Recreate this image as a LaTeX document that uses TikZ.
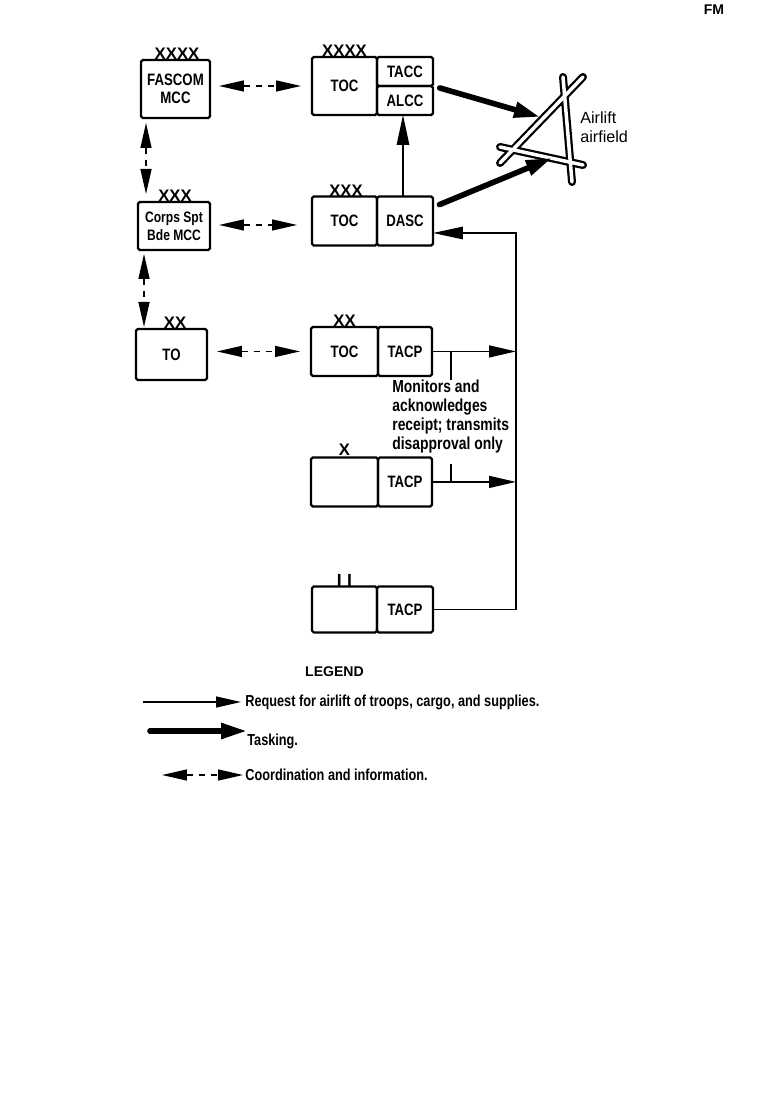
\documentclass[tikz,border=0pt]{standalone}
\usepackage{fontspec}
\setmainfont{Liberation Sans}
\newfontfamily\condfont[FakeStretch=0.8]{Liberation Sans}
\usetikzlibrary{positioning,arrows.meta}

\begin{document}
\begin{tikzpicture}[
x=0.02cm,y=-0.02cm,
node distance=1.63cm,
>={Triangle[length=0.5cm,width=0.22cm]},
unitbox/.style={
draw,
rounded corners=1pt,
line width=1.3pt,
outer sep=0pt,
inner sep=0pt,
align=center,
font=\condfont\bfseries\fontsize{9.4}{10.6}\selectfont
},
echelon/.style={
font=\bfseries\fontsize{9.5}{10}\selectfont,
inner sep=0pt,
outer sep=0pt
},
legendtext/.style={
font=\condfont\bfseries\fontsize{9.05}{10}\selectfont,
inner sep=0pt,
anchor=west
},
coordline/.style={<->,line width=0.8pt,dash pattern=on 3.4pt off 3.4pt},
request/.style={->,line width=0.8pt},
tasking/.style={-{Triangle[length=0.52cm,width=0.3cm]},line width=3.2pt,line cap=round},
road/.style={line cap=round}
]

\useasboundingbox (0,0) rectangle (783,1097);

\node (fm) [font=\bfseries\fontsize{8}{9}\selectfont,inner sep=0pt] at (714,10) {FM};

% left column
\node (fascom) [unitbox,minimum width=1.38cm,minimum height=1.16cm] at (175.5,89) {FASCOM\\MCC};
\node (corps) [unitbox,minimum width=1.44cm,minimum height=0.96cm,
font=\condfont\bfseries\fontsize{8.6}{10.2}\selectfont,below=1.68cm of fascom,xshift=-0.03cm] {Corps Spt\\Bde MCC};
\node (to) [unitbox,minimum width=1.42cm,minimum height=1.02cm,below=1.58cm of corps,xshift=-0.05cm] {TO};

% right column
\node (toc1) [unitbox,minimum width=1.3cm,minimum height=1.16cm] at (344.5,86) {TOC};
\node (tacc) [unitbox,minimum width=1.12cm,minimum height=0.58cm,right=0pt of toc1.north east,anchor=north west] {TACC};
\node (alcc) [unitbox,minimum width=1.12cm,minimum height=0.58cm,below=0pt of tacc] {ALCC};

\node (toc2) [unitbox,minimum width=1.3cm,minimum height=0.98cm,below=of toc1] {TOC};
\node (dasc) [unitbox,minimum width=1.12cm,minimum height=0.98cm,right=0pt of toc2] {DASC};

\node (toc3) [unitbox,minimum width=1.34cm,minimum height=0.98cm,below=of toc2] {TOC};
\node (tacp1) [unitbox,minimum width=1.08cm,minimum height=0.98cm,right=0pt of toc3] {TACP};

\node (toc4) [unitbox,minimum width=1.34cm,minimum height=0.98cm,below=of toc3] {};
\node (tacp2) [unitbox,minimum width=1.08cm,minimum height=0.98cm,right=0pt of toc4] {TACP};

\node (toc5) [unitbox,minimum width=1.3cm,minimum height=0.92cm,below=1.6cm of toc4] {};
\node (tacp3) [unitbox,minimum width=1.12cm,minimum height=0.92cm,right=0pt of toc5] {TACP};

% echelon marks
\node (mark1) [echelon,above=0pt of fascom,xshift=0.03cm] {XXXX};
\node (mark2) [echelon,above=0pt of corps,xshift=0.02cm] {XXX};
\node (mark3) [echelon,above=0pt of to,xshift=0.07cm] {XX};
\node (mark4) [echelon,above=0pt of toc1] {XXXX};
\node (mark5) [echelon,above=0pt of toc2,xshift=0.03cm] {XXX};
\node (mark6) [echelon,above=0pt of toc3] {XX};
\node (mark7) [echelon,above=0.04cm of toc4] {X};
\node (mark8) [echelon,above=0pt of toc5,font=\bfseries\fontsize{10}{10}\selectfont] {I\hspace{3pt}I};

\node (monitors) [font=\condfont\bfseries\fontsize{9.9}{10.8}\selectfont,align=left,inner sep=0pt,
below right=0.08cm and 0.28cm of tacp1.south west] {Monitors and\\acknowledges\\receipt; transmits\\disapproval only};

\node (airlift) [font=\fontsize{9.2}{11}\selectfont,align=left,inner sep=0pt,anchor=west] at (580,127) {Airlift\\airfield};

% airfield
\draw[road,line width=0.16cm] (583,77) -- (500,163) (563,77) -- (572,182) (500,147) -- (583,165);
\draw[road,white,line width=0.07cm] (583,77) -- (500,163) (563,77) -- (572,182) (500,147) -- (583,165);

\coordinate (strip1) at (540,117);
\coordinate (strip2) at (552,158);
\coordinate (bus) at (516,233);
\coordinate (tick1) at ([xshift=0.38cm]tacp1.east);
\coordinate (tick2) at ([xshift=0.38cm]tacp2.east);

% coordination
\draw[coordline,shorten <=0.18cm,shorten >=0.22cm] (toc1.west -| fascom.east) -- (toc1.west);
\draw[coordline,shorten <=0.18cm,shorten >=0.3cm] ([yshift=-0.08cm]toc2.west -| corps.east) -- ([yshift=-0.08cm]toc2.west);
\draw[coordline,shorten <=0.2cm,shorten >=0.22cm] (toc3.west -| to.east) -- (toc3.west);
\draw[coordline,shorten <=0.1cm,shorten >=0.16cm] ([xshift=0.1cm]fascom.south west) -- ([xshift=0.1cm]fascom.south west |- corps.north);
\draw[coordline,shorten <=0.08cm,shorten >=0.04cm] ([xshift=0.12cm]corps.south west) -- ([xshift=0.12cm]corps.south west |- to.north);

% tasking
\draw[tasking,shorten <=0.14cm] (alcc.north east) -- (strip1);
\draw[tasking,shorten <=0.14cm] (dasc.26) -- (strip2);

% requests
\draw[-{Triangle[length=0.6cm,width=0.25cm]},line width=0.8pt] ([xshift=-0.04cm]dasc.north) -- ([xshift=-0.04cm]dasc.north |- alcc.south);
\draw[-{Triangle[length=0.6cm,width=0.25cm]},line width=0.8pt] (tacp3.east) -| (bus) -- (dasc.east |- bus);
\draw[-{Triangle[length=0.54cm,width=0.24cm]},line width=0.8pt] (tacp1.east) -- (tacp1.east -| bus);
\draw[-{Triangle[length=0.54cm,width=0.24cm]},line width=0.8pt] (tacp2.east) -- (tacp2.east -| bus);
\draw[line width=0.8pt] (tick1) -- (tick1 |- monitors.north);
\draw[line width=0.8pt] (tick2) -- ([yshift=-0.2cm]tick2 |- monitors.south);

% legend
\node (legend) [font=\bfseries\fontsize{8}{9}\selectfont,inner sep=0pt] at (334.5,672) {LEGEND};
\node (reqtext) [legendtext] at (245,702) {Request for airlift of troops, cargo, and supplies.};
\node (tasktext) [legendtext] at (247,741) {Tasking.};
\node (coordtext) [legendtext] at (245,775) {Coordination and information.};
\coordinate (reqtail) at (143,702);
\coordinate (tasktail) at (150,731);
\coordinate (coordtail) at (162,775);

\draw[request,shorten >=0.08cm] (reqtail) -- (reqtext.west);
\draw[tasking] (tasktail) -- (tasktail -| tasktext.west);
\draw[coordline,shorten >=0.04cm] (coordtail) -- (coordtext.west);

\end{tikzpicture}
\end{document}
